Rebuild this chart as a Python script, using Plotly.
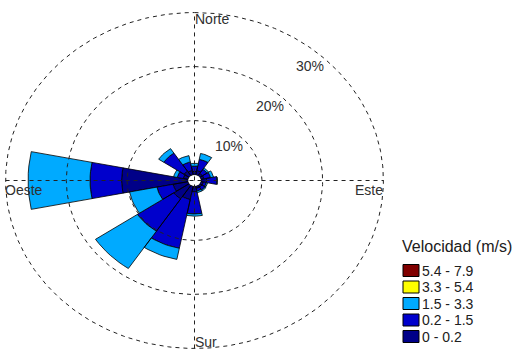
import numpy as np
import plotly.graph_objects as go

# Wind rose: frequency (%) per direction and speed class
directions = ["N", "NNE", "NE", "ENE", "E", "ESE", "SE", "SSE",
              "S", "SSW", "SW", "WSW", "W", "WNW", "NW", "NNW"]
angles_deg = [0, 22.5, 45, 67.5, 90, 112.5, 135, 157.5,
              180, 202.5, 225, 247.5, 270, 292.5, 315, 337.5]

speed_classes = ["0 - 0.2", "0.2 - 1.5", "1.5 - 3.3", "3.3 - 5.4", "5.4 - 7.9"]
class_colors = ["#000088", "#0000CC", "#00AAFF", "#FFFF00", "#800000"]

freq_0_02 = [0.6, 0.8, 0.5, 0.5, 0.9, 0.4, 0.4, 0.4, 1.0, 2.5, 3.0, 2.5, 10.9, 0.8, 1.0, 0.8]
freq_02_15 = [1.0, 2.1, 0.9, 1.1, 1.7, 0.5, 0.6, 0.5, 4.1, 9.2, 7.2, 2.7, 5.2, 1.0, 4.0, 1.6]
freq_15_33 = [0.5, 1.1, 0.3, 0.5, 0.1, 0.2, 0.2, 0.3, 0.4, 2.1, 8.3, 4.6, 10.2, 0.6, 1.0, 1.2]
freq_33_54 = [0.0] * 16
freq_54_79 = [0.0] * 16

ring_values = [10, 20, 30]
ring_labels = ["10%", "20%", "30%"]
cardinal_labels = ["Norte", "Este", "Sur", "Oeste"]
legend_title = "Velocidad (m/s)"

HOLE = 1.1          # empty circle at the centre, in % units
SECTOR = 22.5       # angular width of each sector
R_MAX = HOLE + max(ring_values)

W, H = 526, 353
FONT = "Liberation Sans, Arial, sans-serif"
TEXT_COLOR = "#303030"

fig = go.Figure()


def polar_xy(r, theta_deg):
    t = np.radians(theta_deg)
    return r * np.sin(t), r * np.cos(t)


# Stack the speed classes outward from the hole
series = [freq_0_02, freq_02_15, freq_15_33, freq_33_54, freq_54_79]
base = np.zeros(len(directions))
for name, color, vals in zip(speed_classes, class_colors, series):
    vals = np.asarray(vals, dtype=float)
    xs, ys = [], []
    for ang, b, v in zip(angles_deg, base, vals):
        if v <= 0:
            continue
        arc = np.linspace(ang - SECTOR / 2, ang + SECTOR / 2, 9)
        x_in, y_in = polar_xy(HOLE + b, arc)
        x_out, y_out = polar_xy(HOLE + b + v, arc[::-1])
        xs += list(x_in) + list(x_out) + [x_in[0], None]
        ys += list(y_in) + list(y_out) + [y_in[0], None]
    fig.add_trace(go.Scatter(
        x=xs if xs else [None], y=ys if ys else [None],
        mode="lines", fill="toself", fillcolor=color,
        line=dict(color="black", width=0.8),
        name=name, showlegend=False, hoverinfo="skip"))
    base = base + vals

# Dashed reference circles
circ = np.linspace(0, 360, 361)
for rv in ring_values:
    cx, cy = polar_xy(HOLE + rv, circ)
    fig.add_trace(go.Scatter(x=cx, y=cy, mode="lines", showlegend=False,
                             hoverinfo="skip",
                             line=dict(color="#222222", width=1, dash="4px,4px")))

# Cross-hair axes
fig.add_trace(go.Scatter(x=[-R_MAX, R_MAX, None, 0, 0], y=[0, 0, None, -R_MAX, R_MAX],
                         mode="lines", showlegend=False, hoverinfo="skip",
                         line=dict(color="#222222", width=1, dash="4px,4px")))

font = dict(family=FONT, size=14, color=TEXT_COLOR)

# Ring labels, placed just inside each circle
for rv, lab in zip(ring_values, ring_labels):
    lx, ly = polar_xy(HOLE + rv - 2.6, 42)
    fig.add_annotation(x=lx, y=ly, text=lab, showarrow=False, font=font,
                       xanchor="center", yanchor="middle")

# Cardinal labels
fig.add_annotation(x=0, y=R_MAX, text=cardinal_labels[0], showarrow=False, font=font,
                   xanchor="left", yanchor="middle", xshift=-2, yshift=-6)
fig.add_annotation(x=R_MAX, y=0, text=cardinal_labels[1], showarrow=False, font=font,
                   xanchor="right", yanchor="middle", xshift=2, yshift=-9)
fig.add_annotation(x=0, y=-R_MAX, text=cardinal_labels[2], showarrow=False, font=font,
                   xanchor="left", yanchor="middle", xshift=-2, yshift=6)
fig.add_annotation(x=-R_MAX, y=0, text=cardinal_labels[3], showarrow=False, font=font,
                   xanchor="left", yanchor="middle", xshift=-3, yshift=-9)

# Legend: title, swatches and class labels (top class first)
def px_to_paper(px, py):
    return px / W, 1 - py / H

tx, ty = px_to_paper(400, 246)
fig.add_annotation(x=tx, y=ty, xref="paper", yref="paper", text=legend_title,
                   showarrow=False, xanchor="left", yanchor="middle",
                   font=dict(family=FONT, size=16, color="#202020"))
row0, pitch = 270.5, 16.5
for i, (name, color) in enumerate(zip(speed_classes[::-1], class_colors[::-1])):
    yc = row0 + i * pitch
    x0, y0 = px_to_paper(403, yc - 6)
    x1, y1 = px_to_paper(419, yc + 6)
    fig.add_shape(type="rect", xref="paper", yref="paper", x0=x0, x1=x1, y0=y1, y1=y0,
                  fillcolor=color, line=dict(color="black", width=1))
    lx, ly = px_to_paper(420, yc)
    fig.add_annotation(x=lx, y=ly, xref="paper", yref="paper", text=name,
                       showarrow=False, xanchor="left", yanchor="middle",
                       font=dict(family=FONT, size=14, color="#202020"))

# Non-equal x/y scaling: 1 % = 6.075 px horizontally, 5.4 px vertically
cx_px, cy_px = 194.5, 180.5
kx, ky = 6.075, 5.4
fig.update_xaxes(range=[-cx_px / kx, (W - cx_px) / kx], visible=False, fixedrange=True)
fig.update_yaxes(range=[-(H - cy_px) / ky, cy_px / ky], visible=False, fixedrange=True)

fig.update_layout(
    width=W, height=H,
    margin=dict(l=0, r=0, t=0, b=0),
    paper_bgcolor="white", plot_bgcolor="white",
    showlegend=False,
)

fig.write_html("out.html")
